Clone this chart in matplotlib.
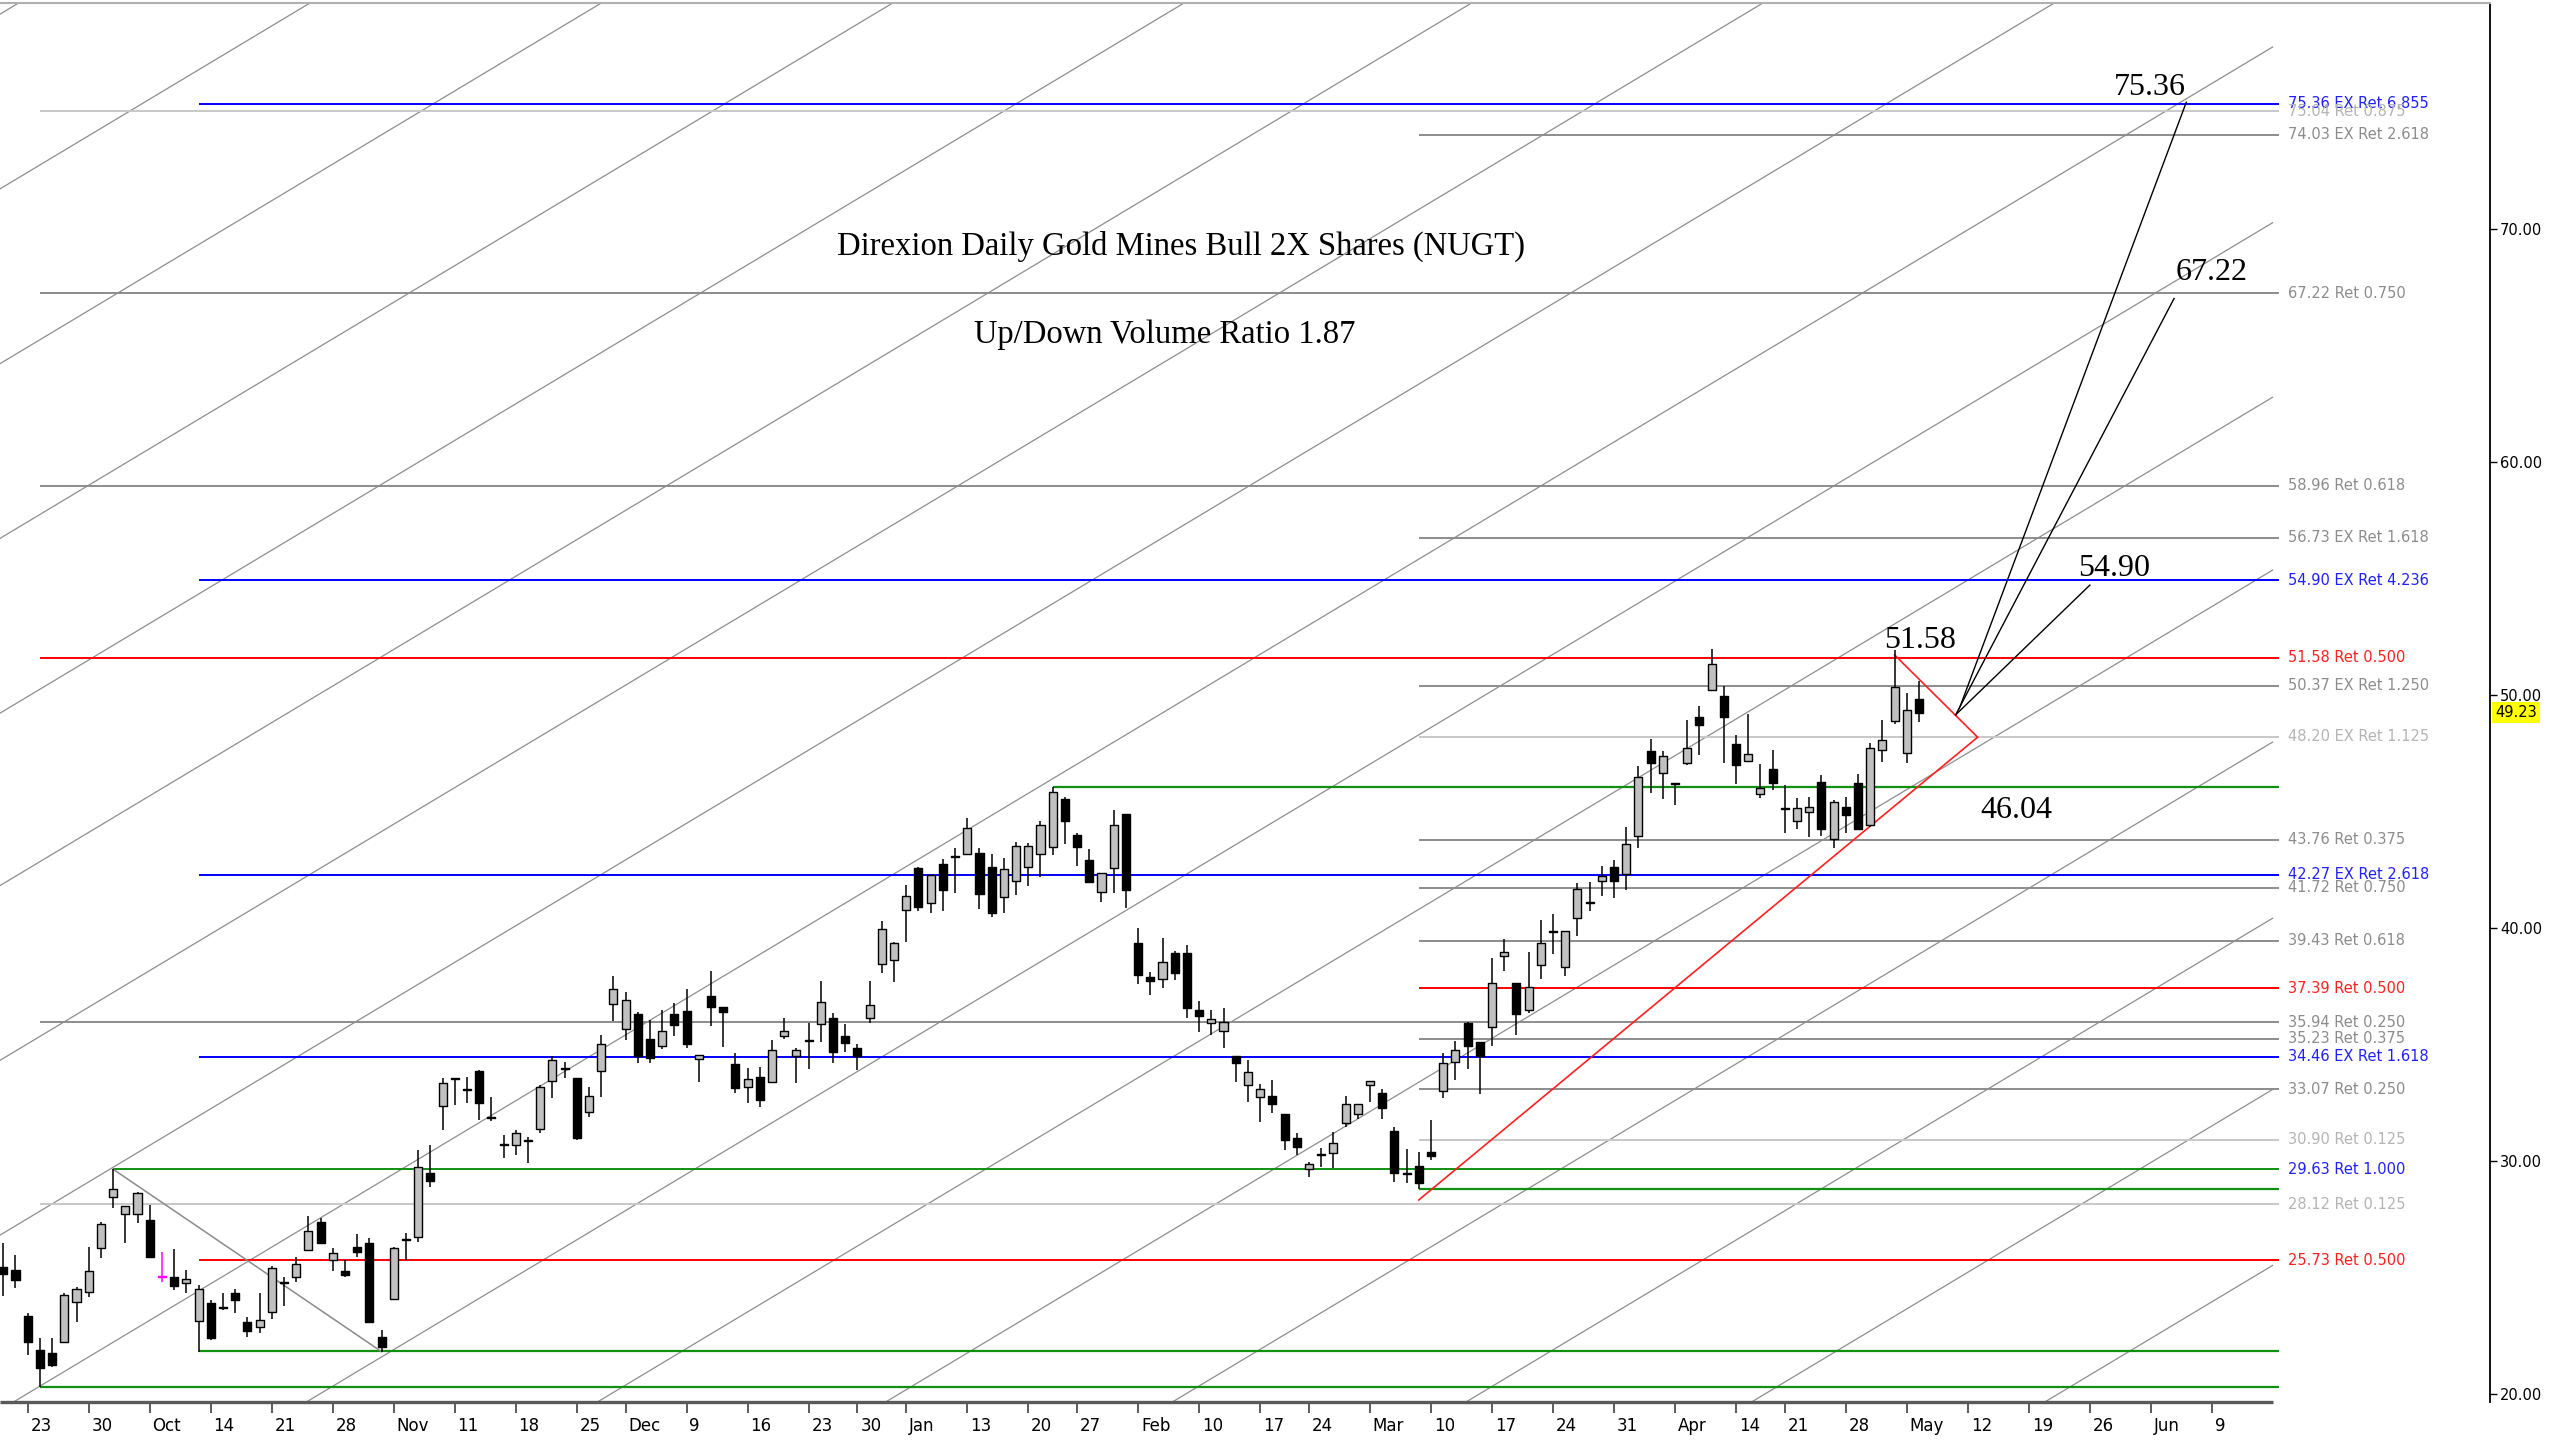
import numpy as np
import pandas as pd
import matplotlib
matplotlib.use('Agg')
import matplotlib.pyplot as plt
import matplotlib.transforms as mtransforms
from matplotlib.patches import Rectangle
from matplotlib.collections import LineCollection, PatchCollection

# trading calendar (the data feed kept Jan 9; projected days are plain weekdays)
holidays = ['2024-11-28', '2024-12-25', '2025-01-01', '2025-01-20', '2025-02-17', '2025-04-18']
days = pd.bdate_range('2024-09-19', '2025-07-15')
days = days[~days.isin(pd.to_datetime(holidays))]

# daily NUGT candles
opens = [25.45, 25.30, 23.33, 21.87, 21.73, 22.23, 23.94, 24.37, 26.26, 28.42,
         27.71, 27.69, 27.45, 25.02, 25.02, 24.76, 23.13, 23.87, 23.66, 24.33,
         23.06, 22.87, 23.49, 24.73, 25.02, 26.16, 27.35, 25.73, 25.27, 26.30,
         26.45, 22.44, 24.05, 26.60, 26.74, 29.48, 32.35, 33.50, 33.03, 33.86,
         31.82, 30.67, 30.67, 30.84, 31.34, 33.43, 33.93, 33.53, 32.10, 33.86,
         36.72, 35.65, 36.28, 35.21, 34.92, 36.28, 36.44, 34.35, 37.07, 36.60,
         34.13, 33.17, 33.60, 33.39, 35.36, 34.49, 35.13, 35.86, 36.11, 35.35,
         34.82, 36.10, 38.43, 38.61, 40.75, 42.54, 41.07, 42.71, 43.04, 43.16,
         43.21, 42.61, 41.33, 42.01, 42.61, 43.16, 43.44, 45.50, 43.97, 42.90,
         41.54, 42.54, 44.87, 39.32, 37.86, 37.79, 38.89, 38.89, 36.46, 35.92,
         35.57, 34.49, 33.24, 32.71, 32.78, 32.00, 30.95, 29.62, 30.24, 30.34,
         31.63, 32.00, 33.24, 32.89, 31.27, 29.42, 29.77, 30.38, 33.00, 34.25,
         35.92, 35.10, 35.75, 38.78, 37.64, 36.46, 38.40, 39.83, 38.32, 40.40,
         41.07, 42.01, 42.61, 42.30, 43.93, 47.59, 46.65, 46.15, 47.08, 49.05,
         50.20, 49.94, 47.88, 47.16, 45.73, 46.81, 45.08, 44.59, 44.98, 46.26,
         43.79, 45.19, 46.19, 44.40, 47.62, 48.88, 47.51, 49.80]
highs = [26.45, 25.95, 23.44, 22.37, 22.37, 24.30, 24.59, 26.30, 27.38, 29.63,
         28.05, 28.66, 28.09, 26.09, 26.19, 25.30, 24.66, 24.01, 24.30, 24.47,
         23.30, 24.33, 25.47, 25.02, 25.87, 27.62, 27.55, 26.23, 25.73, 26.83,
         26.66, 22.73, 26.30, 26.88, 30.46, 30.67, 33.53, 33.50, 33.60, 33.89,
         32.75, 31.10, 31.32, 31.03, 33.25, 34.49, 34.25, 33.53, 33.17, 35.39,
         37.92, 37.25, 36.39, 36.04, 36.46, 36.75, 37.35, 34.53, 38.15, 36.60,
         34.60, 33.96, 34.03, 35.18, 36.11, 34.82, 35.89, 37.72, 36.32, 35.86,
         34.99, 37.72, 40.29, 39.39, 41.83, 42.61, 42.25, 42.93, 43.40, 44.69,
         43.40, 43.16, 42.97, 43.69, 43.61, 44.59, 46.02, 45.59, 44.07, 43.36,
         42.33, 45.04, 44.87, 39.97, 38.10, 39.54, 39.01, 39.25, 36.86, 36.46,
         36.53, 34.49, 34.31, 33.28, 33.46, 32.00, 31.20, 29.95, 30.53, 31.24,
         32.77, 32.43, 33.43, 33.06, 31.46, 30.48, 30.38, 31.74, 34.60, 35.15,
         35.96, 35.10, 38.71, 39.50, 37.64, 38.97, 40.33, 40.58, 39.87, 41.93,
         41.97, 42.64, 42.90, 44.33, 46.94, 48.08, 47.59, 46.22, 48.91, 49.51,
         51.94, 50.37, 48.27, 49.17, 47.02, 47.62, 46.12, 45.55, 45.62, 46.55,
         45.48, 45.59, 46.59, 47.91, 48.91, 51.90, 50.05, 50.60]
lows = [24.19, 24.52, 21.66, 20.30, 21.15, 22.23, 23.08, 24.16, 25.80, 27.95,
        26.48, 27.31, 25.85, 24.80, 24.44, 24.30, 21.80, 22.30, 23.59, 23.47,
        22.41, 22.58, 23.20, 23.77, 24.80, 26.16, 26.42, 25.26, 25.02, 25.87,
        23.04, 21.80, 24.00, 25.74, 26.52, 28.85, 31.32, 32.39, 32.46, 31.74,
        31.72, 30.10, 30.24, 29.91, 31.20, 32.67, 33.53, 30.89, 31.89, 32.75,
        35.97, 35.18, 34.18, 34.18, 34.78, 35.35, 34.82, 33.39, 35.78, 34.89,
        32.92, 32.49, 32.32, 33.39, 35.21, 33.32, 33.92, 35.11, 34.18, 34.68,
        33.89, 35.89, 38.03, 37.68, 39.39, 40.72, 40.61, 40.72, 41.50, 43.16,
        40.78, 40.47, 40.64, 41.40, 41.78, 42.15, 43.11, 43.58, 42.64, 41.97,
        41.11, 41.50, 40.82, 37.58, 37.10, 37.39, 37.75, 36.10, 35.53, 35.39,
        34.82, 33.38, 32.53, 31.67, 32.05, 30.45, 30.24, 29.30, 29.71, 29.67,
        31.46, 31.77, 32.53, 31.77, 29.09, 29.02, 28.77, 30.03, 32.67, 33.46,
        33.92, 32.86, 34.92, 38.15, 35.39, 36.35, 37.78, 38.87, 37.92, 39.64,
        40.73, 41.36, 41.26, 41.61, 43.40, 45.79, 45.50, 45.26, 46.98, 47.41,
        50.20, 47.05, 46.16, 47.16, 45.55, 45.91, 44.05, 44.22, 43.87, 43.93,
        43.40, 44.05, 44.22, 44.30, 47.12, 48.74, 47.05, 48.84]
closes = [25.13, 24.87, 22.23, 21.08, 21.23, 24.23, 24.47, 25.27, 27.26, 28.76,
          28.05, 28.62, 25.87, 25.02, 24.63, 24.92, 24.47, 22.37, 23.66, 24.01,
          22.70, 23.16, 25.37, 24.73, 25.56, 26.99, 26.48, 26.05, 25.09, 26.09,
          23.08, 22.01, 26.26, 26.60, 29.74, 29.13, 33.32, 33.50, 33.03, 32.49,
          31.82, 30.67, 31.17, 30.84, 33.17, 34.32, 33.93, 30.96, 32.78, 34.99,
          37.35, 36.90, 34.49, 34.39, 35.58, 35.82, 34.99, 34.53, 36.58, 36.37,
          33.13, 33.49, 32.60, 34.75, 35.56, 34.75, 35.13, 36.80, 34.68, 35.03,
          34.49, 36.68, 39.92, 39.32, 41.35, 40.90, 42.25, 41.61, 43.04, 44.29,
          41.44, 40.61, 42.50, 43.50, 43.50, 44.40, 45.83, 44.59, 43.44, 41.97,
          42.33, 44.40, 41.61, 37.96, 37.72, 38.51, 38.06, 36.53, 36.20, 36.06,
          35.96, 34.17, 33.81, 33.07, 32.43, 30.88, 30.57, 29.85, 30.24, 30.74,
          32.43, 32.43, 33.43, 32.24, 29.48, 29.42, 29.02, 30.20, 34.20, 34.75,
          34.92, 34.49, 37.61, 38.94, 36.28, 37.44, 39.32, 39.83, 39.87, 41.64,
          41.07, 42.23, 42.01, 43.57, 46.48, 47.08, 47.36, 46.15, 47.72, 48.70,
          51.30, 49.02, 46.98, 47.45, 45.98, 46.19, 45.08, 45.12, 45.16, 44.22,
          45.40, 44.83, 44.22, 47.69, 48.05, 50.31, 49.34, 49.23]
marked_bar = 13  # bar flagged in magenta

# retracement / extension levels: value, label, candle the line starts from, kind
levels = [75.36, 75.04, 74.03, 67.22, 58.96, 56.73, 54.90, 51.58, 50.37, 48.20,
          43.76, 42.27, 41.72, 39.43, 37.39, 35.94, 35.23, 34.46, 33.07, 30.90,
          29.63, 28.12, 25.73]
level_text = ["75.36 EX Ret 6.855", "75.04 Ret 0.875", "74.03 EX Ret 2.618",
              "67.22 Ret 0.750", "58.96 Ret 0.618", "56.73 EX Ret 1.618",
              "54.90 EX Ret 4.236", "51.58 Ret 0.500", "50.37 EX Ret 1.250",
              "48.20 EX Ret 1.125", "43.76 Ret 0.375", "42.27 EX Ret 2.618",
              "41.72 Ret 0.750", "39.43 Ret 0.618", "37.39 Ret 0.500",
              "35.94 Ret 0.250", "35.23 Ret 0.375", "34.46 EX Ret 1.618",
              "33.07 Ret 0.250", "30.90 Ret 0.125", "29.63 Ret 1.000",
              "28.12 Ret 0.125", "25.73 Ret 0.500"]
level_from = [16, 3, 116, 3, 3, 116, 16, 3, 116, 116, 116, 16, 116, 116, 116,
              3, 116, 16, 116, 116, 9, 3, 16]
level_kind = ['ex', 'faint', 'gray', 'gray', 'gray', 'gray', 'ex', 'half', 'gray',
              'faint', 'gray', 'ex', 'gray', 'gray', 'half', 'gray', 'gray', 'ex',
              'gray', 'faint', 'swing', 'faint', 'half']

# green swing lines (no label): value, start candle
swing_levels = [46.04, 28.77, 21.82, 20.30]
swing_from = [86, 116, 16, 3]

# parallel channel: price where each line ends at the right, and slope per bar
channel_ends = [25.50, 33.05, 40.40, 47.96, 55.34, 62.76, 70.25, 77.79, 85.3,
                92.8, 100.3, 107.7, 115.2, 122.7, 130.2, 137.7]
channel_slope = 0.3141
drawing_end = 185.97

# projections from the May pivot
targets = [75.36, 67.22, 54.90]
target_bar = [178.9, 177.9, 171.0]
target_hit = [75.42, 67.00, 54.70]
pivot_bar = [160.3, 160.0, 160.0]
pivot_price = [49.40, 49.13, 49.13]
apex_bar, apex_price = 161.8, 48.17
trend_bar, trend_price = 116, 28.31

kind_line = {'ex': '#0000ff', 'faint': '#c8c8c8', 'gray': '#8c8c8c',
             'half': '#ff0000', 'swing': '#109010'}
kind_text = {'ex': '#2020ff', 'faint': '#b4b4b4', 'gray': '#8c8c8c',
             'half': '#ff2020', 'swing': '#2020ff'}

fig = plt.figure(figsize=(25.6, 14.4), dpi=100)
ax = fig.add_axes([0, 0.0264, 0.9727, 0.9715])
ax.set_xlim(-0.27, 203.8)
ax.set_ylim(19.64, 79.68)

# channel lines
for pe in channel_ends:
    x0 = -1.0
    ax.plot([x0, drawing_end], [pe - channel_slope * (drawing_end - x0), pe],
            color='#8e8e8e', lw=0.9, zorder=2)

# horizontal levels and their tags
line_end = 186.5
for v, t, s, k in zip(levels, level_text, level_from, level_kind):
    ax.hlines(v, s, line_end, colors=kind_line[k], lw=1.4, zorder=3)
    ax.text(187.2, v, t, color=kind_text[k], fontsize=10.5, va='center', ha='left',
            family='DejaVu Sans', zorder=4)
for v, s in zip(swing_levels, swing_from):
    ax.hlines(v, s, line_end, colors='#109010', lw=1.6, zorder=3)

# swing line from the early October high to the November low
ax.plot([9, 31], [highs[9], lows[31]], color='#8a8a8a', lw=1.1, zorder=3)

# red wedge
ax.plot([trend_bar, apex_bar], [trend_price, apex_price], color='#ff2020', lw=1.2, zorder=4)
ax.plot([155, apex_bar], [51.7, apex_price], color='#ff2020', lw=1.2, zorder=4)

# projection lines
for pb, pp, tb, th in zip(pivot_bar, pivot_price, target_bar, target_hit):
    ax.plot([pb, tb], [pp, th], color='black', lw=1.0, zorder=4)

# candles
idx = np.arange(len(opens))
o = np.array(opens)
c = np.array(closes)
wick_segs = [[(i, lows[i]), (i, highs[i])] for i in idx]
wick_cols = ['magenta' if i == marked_bar else 'black' for i in idx]
ax.add_collection(LineCollection(wick_segs, colors=wick_cols, linewidths=1.1, zorder=5))
bw = 0.66
rects, faces, edges = [], [], []
for i in idx:
    lo = min(o[i], c[i])
    h = max(abs(c[i] - o[i]), 0.04)
    rects.append(Rectangle((i - bw / 2, lo), bw, h))
    if i == marked_bar:
        faces.append('magenta')
        edges.append('magenta')
    elif c[i] > o[i] + 0.04:
        faces.append('#c0c0c0')
        edges.append('black')
    else:
        faces.append('black')
        edges.append('black')
ax.add_collection(PatchCollection(rects, facecolors=faces, edgecolors=edges,
                                  linewidths=1.0, zorder=6))

# titles and target numbers
serif = ['Liberation Serif', 'DejaVu Serif']
ax.text(96.5, 68.88, 'Direxion Daily Gold Mines Bull 2X Shares (NUGT)', fontsize=23.5,
        family=serif, ha='center', va='baseline')
ax.text(95.2, 65.09, 'Up/Down Volume Ratio 1.87', fontsize=23.5, family=serif,
        ha='center', va='baseline')
ax.text(178.9, 75.73, '75.36', fontsize=23, family=serif, ha='right', va='baseline', zorder=7)
ax.text(178.0, 67.79, '67.22', fontsize=23, family=serif, ha='left', va='baseline', zorder=7)
ax.text(170.0, 55.10, '54.90', fontsize=23, family=serif, ha='left', va='baseline', zorder=7)
ax.text(154.1, 52.00, '51.58', fontsize=23, family=serif, ha='left', va='baseline', zorder=7)
ax.text(162.0, 44.70, '46.04', fontsize=23, family=serif, ha='left', va='baseline', zorder=7)

# price axis on the right
ax.yaxis.tick_right()
yt = [20, 30, 40, 50, 60, 70]
ax.set_yticks(yt)
ax.set_yticklabels(['%.2f' % v for v in yt])
ax.tick_params(axis='y', direction='out', length=5, width=1.0, labelsize=10.5, pad=2)
ax.text(1.002, closes[-1], '%.2f' % closes[-1], transform=ax.get_yaxis_transform(),
        ha='left', va='center', fontsize=10.5,
        bbox=dict(boxstyle='square,pad=0.2', fc='yellow', ec='none'))

# weekly date axis, labels sit just right of their tick
mondays = pd.date_range('2024-09-23', '2025-06-09', freq='W-MON')
tick_pos, tick_lab = [], []
prev_month = mondays[0].month
for m in mondays:
    tick_pos.append(int(np.searchsorted(days.values, np.datetime64(m))))
    tick_lab.append(m.strftime('%b') if m.month != prev_month else str(m.day))
    prev_month = m.month
ax.set_xticks(tick_pos)
ax.set_xticklabels(tick_lab)
ax.tick_params(axis='x', direction='out', length=8, width=1.2, color='#404040',
               labelsize=12, pad=3)
shift = mtransforms.ScaledTranslation(2 / 72, 0, fig.dpi_scale_trans)
for lbl in ax.get_xticklabels():
    lbl.set_fontfamily(['Liberation Sans Narrow', 'DejaVu Sans'])
    lbl.set_horizontalalignment('left')
    lbl.set_transform(lbl.get_transform() + shift)

ax.spines['left'].set_visible(False)
ax.spines['bottom'].set_visible(False)
ax.spines['top'].set_color('#b0b0b0')
ax.spines['top'].set_linewidth(1.5)
ax.spines['right'].set_linewidth(1.3)
y0 = ax.get_ylim()[0]
ax.plot([ax.get_xlim()[0], drawing_end], [y0, y0], color='#5a5a5a', lw=2.4,
        clip_on=False, solid_capstyle='butt', zorder=8)

fig.savefig('out.png', dpi=100)
